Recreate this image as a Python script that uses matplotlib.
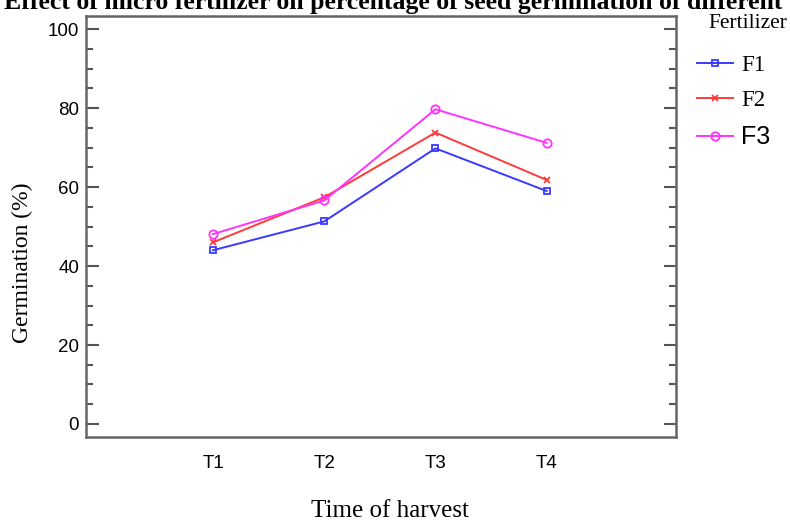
import matplotlib
matplotlib.use("Agg")
import matplotlib.pyplot as plt
from matplotlib.ticker import MultipleLocator

categories = ["T1", "T2", "T3", "T4"]
f1 = [44.0, 51.3, 69.8, 59.0]
f2 = [46.0, 57.4, 73.8, 61.8]
f3 = [48.1, 56.6, 79.7, 71.2]
series_names = ["F1", "F2", "F3"]

sans = ["Liberation Sans"]
serif = ["Liberation Serif"]

W, H = 790, 523
fig = plt.figure(figsize=(W / 100, H / 100), dpi=100)
ax = fig.add_axes([86 / W, 1 - 437 / H, (676 - 86) / W, (437 - 15.7) / H])

x = list(range(1, len(categories) + 1))
ax.plot(x, f1, color="#3a3aff", lw=1.4, marker="s", ms=4.5, mfc="none", mec="#3a3aff", mew=1.3, label=series_names[0])
ax.plot(x, f2, color="#ff3a3a", lw=1.4, marker="x", ms=5, mew=1.3, label=series_names[1])
ax.plot(x, f3, color="#ff33ff", lw=1.4, marker="o", ms=6, mfc="none", mec="#ff33ff", mew=1.3, label=series_names[2])

ax.set_xlim(-0.142, 5.163)
ax.set_ylim(-3.3, 103.4)
ax.set_xticks(x)
ax.set_xticklabels(categories, family=sans, fontsize=13.5)
ax.tick_params(axis="x", length=0, pad=13)
ax.yaxis.set_major_locator(MultipleLocator(20))
ax.yaxis.set_minor_locator(MultipleLocator(5))
ax.tick_params(axis="y", which="major", direction="in", length=9, width=1.5, color="#555555",
               left=True, right=True, pad=5, labelsize=13.5)
ax.tick_params(axis="y", which="minor", direction="in", length=5, width=1.5, color="#555555",
               left=True, right=True)
for lab in ax.get_yticklabels():
    lab.set_family(sans)
for sp in ax.spines.values():
    sp.set_color("#666666")
    sp.set_linewidth(1.8)

fig.text(22 / W, 1 - 263 / H, "Germination (%)", family=serif, fontsize=17, rotation=90,
         ha="center", va="center")
fig.text(390 / W, 1 - 511 / H, "Time of harvest", family=serif, fontsize=18, ha="center", va="center")

fig.text(393 / W, 1 - 9 / H, "Effect of micro fertilizer on percentage of seed germination of different",
         family=serif, fontsize=18.5, fontweight="bold", ha="center", va="baseline")

fig.text(708 / W, 1 - 24 / H, "Fertilizer", family=serif, fontsize=15.5, ha="left", va="center")

leg = ax.legend(loc="upper left", bbox_to_anchor=(697 / W, 1 - 55 / H), bbox_transform=fig.transFigure,
                frameon=False, prop={"family": serif, "size": 16.5}, handlelength=1.55,
                handletextpad=0.38, labelspacing=0.6, borderaxespad=0, borderpad=0)
texts = leg.get_texts()
texts[2].set_family(sans)
texts[2].set_fontsize(18)

fig.savefig("out.png", dpi=100)
